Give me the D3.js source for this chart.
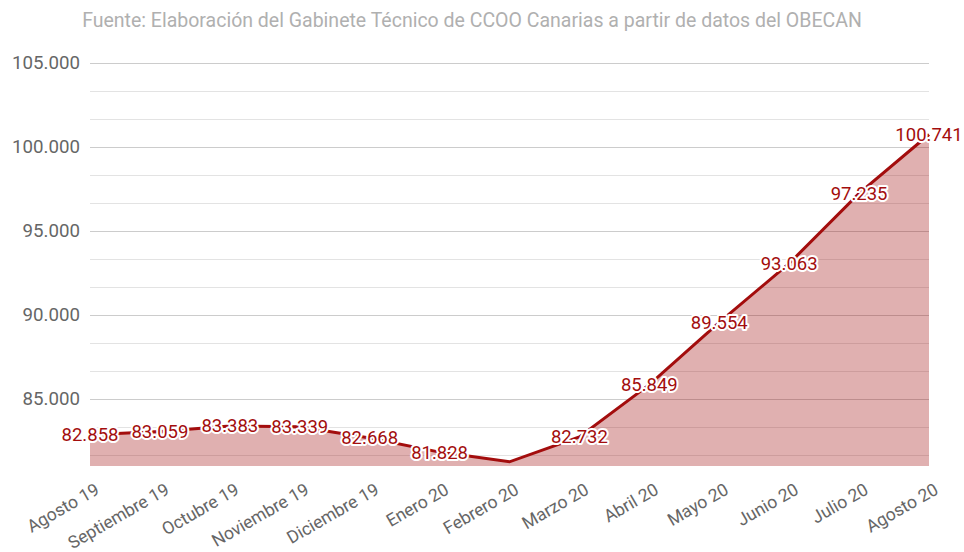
<!DOCTYPE html>
<html><head><meta charset="utf-8">
<script src="https://cdn.jsdelivr.net/npm/d3@7"></script>
<style>body{margin:0;background:#fff}svg{display:block;font-family:Roboto,sans-serif}</style>
</head><body><svg id="c" width="964" height="552"></svg>
<script>
const title = "Fuente: Elaboración del Gabinete Técnico de CCOO Canarias a partir de datos del OBECAN";
const months = ["Agosto 19","Septiembre 19","Octubre 19","Noviembre 19","Diciembre 19","Enero 20","Febrero 20","Marzo 20","Abril 20","Mayo 20","Junio 20","Julio 20","Agosto 20"];
const values = [82858,83059,83383,83339,82668,81828,81250,82732,85849,89554,93063,97235,100741];
const showLabel = [true,true,true,true,true,true,false,true,true,true,true,true,true];
const majorTicks = [85000,90000,95000,100000,105000];
const minorTicks = [81667,83333,86667,88333,91667,93333,96667,98333,101667,103333];

(function(){
const svg = d3.select("#c");
const mL = 90, mR = 929, mT = 63, mB = 466;
const x = d3.scalePoint().domain(months).range([mL, mR]);
const y = d3.scaleLinear().domain([81000, 105000]).range([mB, mT]);
const fmt = v => d3.format(",")(v).replace(/,/g, ".");

svg.append("text").attr("x", 472).attr("y", 27).attr("text-anchor","middle")
  .attr("fill","#b0b0b0").attr("font-size",19.5).text(title);

const g = svg.append("g");
g.selectAll(".minor").data(minorTicks).join("line")
  .attr("x1",mL).attr("x2",mR).attr("y1",d=>Math.round(y(d))+0.5).attr("y2",d=>Math.round(y(d))+0.5)
  .attr("stroke","#e3e3e3").attr("stroke-width",1.2);
g.selectAll(".major").data(majorTicks).join("line")
  .attr("x1",mL).attr("x2",mR).attr("y1",d=>Math.round(y(d))+0.5).attr("y2",d=>Math.round(y(d))+0.5)
  .attr("stroke","#cccccc").attr("stroke-width",1.2);

const yAxis = d3.axisLeft(y).tickValues(majorTicks).tickFormat(fmt).tickSize(0).tickPadding(10);
svg.append("g").attr("transform",`translate(${mL},0)`).call(yAxis)
  .call(s=>s.select(".domain").remove())
  .selectAll("text").attr("fill","#666").attr("font-size",18.7).attr("font-family","Roboto");

const data = months.map((m,i)=>({m, v: values[i], show: showLabel[i]}));
const area = d3.area().x(d=>x(d.m)).y0(y(81000)).y1(d=>y(d.v));
svg.append("path").datum(data).attr("d",area).attr("fill","rgb(160,10,10)").attr("fill-opacity",0.32);
const line = d3.line().x(d=>x(d.m)).y(d=>y(d.v));
svg.append("path").datum(data).attr("d",line).attr("fill","none").attr("stroke","#a30d0d").attr("stroke-width",3);

const xAxis = d3.axisBottom(x).tickSize(0).tickPadding(0);
const xa = svg.append("g").attr("transform",`translate(0,${mB})`).call(xAxis);
xa.select(".domain").remove();
xa.selectAll("text").attr("text-anchor","end").attr("fill","#666").attr("font-size",17.5).attr("font-family","Roboto")
  .attr("dy",0).attr("y",0).attr("transform","translate(10,27) rotate(-30)");

const lg = svg.append("g").attr("font-size",18.5).attr("text-anchor","middle");
const ld = data.filter(d=>d.show);
const px = d => Math.min(x(d.m), 964-35);
lg.selectAll(".halo").data(ld).join("text").attr("class","halo")
  .attr("x",px).attr("y",d=>y(d.v)).attr("dy","0.35em")
  .attr("fill","none").attr("stroke","#fff").attr("stroke-width",4).attr("stroke-linejoin","round")
  .text(d=>fmt(d.v));
lg.selectAll(".lbl").data(ld).join("text").attr("class","lbl")
  .attr("x",px).attr("y",d=>y(d.v)).attr("dy","0.35em")
  .attr("fill","#a30d0d").text(d=>fmt(d.v));
})();
</script></body></html>
